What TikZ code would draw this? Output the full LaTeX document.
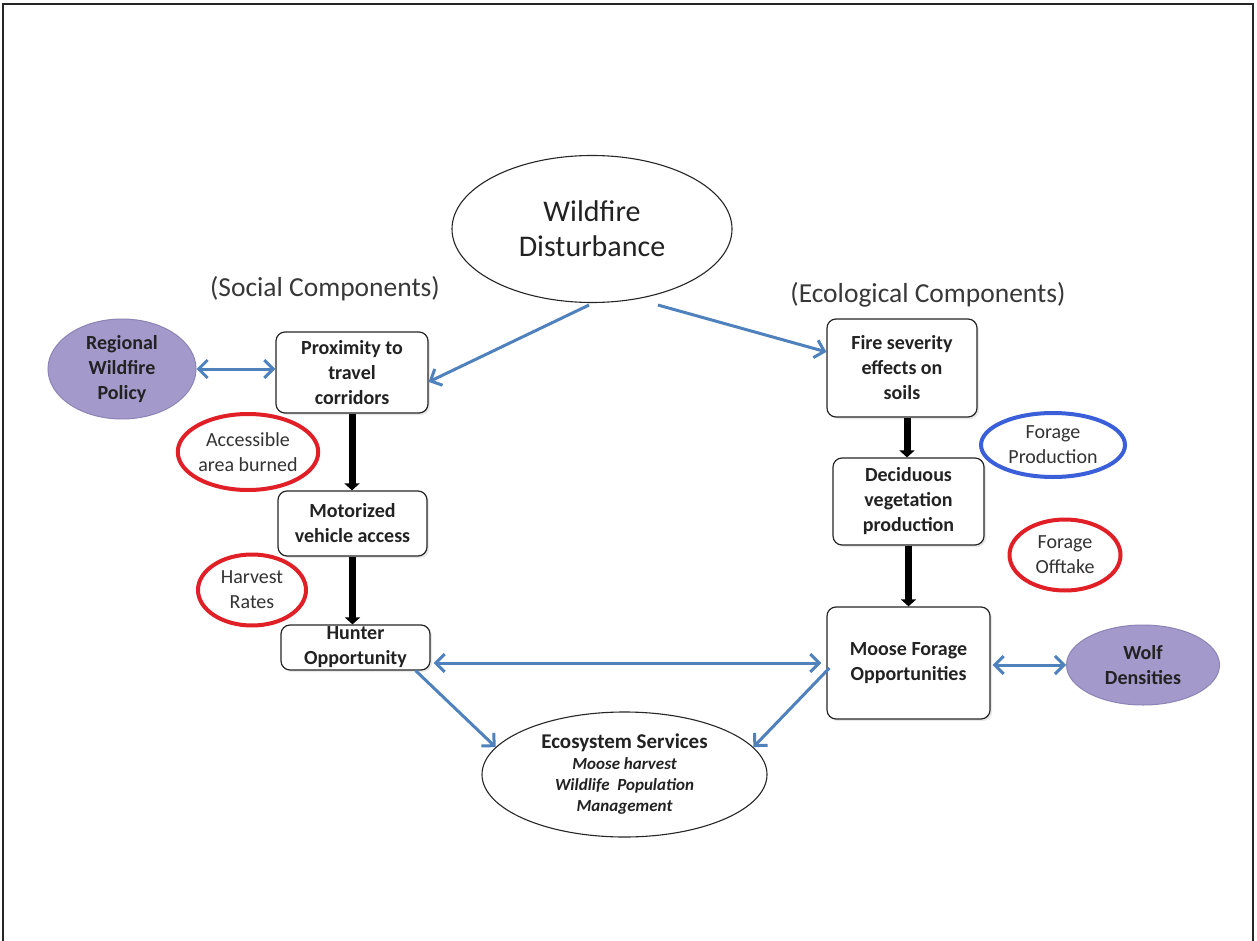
\documentclass[tikz,border=0pt]{standalone}
\usepackage{fontspec}
\setmainfont{Carlito}
\usetikzlibrary{shapes.geometric,arrows.meta,calc,shadows}
\definecolor{arrblue}{HTML}{4F81BD}
\definecolor{ellred}{HTML}{E01F26}
\definecolor{ellblue}{HTML}{3A5FD9}
\definecolor{purfill}{HTML}{A39ACB}
\definecolor{purdraw}{HTML}{8C84B4}
\definecolor{txt}{HTML}{222222}
\tikzset{
  box/.style={draw=black!85, line width=1.2pt, rounded corners=9pt, fill=white,
    align=center, text=txt, inner sep=0pt,
    font=\bfseries\fontsize{20}{25}\selectfont,
    drop shadow={opacity=0.18, shadow xshift=2pt, shadow yshift=-2pt}},
  plainell/.style={ellipse, draw=black!85, line width=1.1pt, fill=white, align=center,
    text=txt, inner sep=0pt},
  redell/.style={ellipse, draw=ellred, line width=4pt, align=center, inner sep=0pt,
    text=black!80, font=\fontsize{20}{25}\selectfont},
  blueell/.style={ellipse, draw=ellblue, line width=4pt, align=center, inner sep=0pt,
    text=black!80, font=\fontsize{20}{25}\selectfont},
  purell/.style={ellipse, draw=purdraw, line width=1pt, fill=purfill, align=center,
    inner sep=0pt, text=txt, font=\bfseries\fontsize{20}{25}\selectfont},
  heading/.style={text=black!78, font=\fontsize{27.5}{33}\selectfont},
  bluearrow/.style={draw=arrblue, line width=3pt,
    -{Straight Barb[length=9pt,width=18pt,line width=3pt]}},
  bluedouble/.style={draw=arrblue, line width=3pt,
    {Straight Barb[length=9pt,width=18pt,line width=3pt]}-{Straight Barb[length=9pt,width=18pt,line width=3pt]}},
  blackarrow/.style={draw=black, line width=7pt, -{Triangle[length=7pt,width=15pt]}},
}
\begin{document}
\begin{tikzpicture}[x=1pt,y=-1pt]
\useasboundingbox (0,0) rectangle (1257,941);
\fill[white] (0,0) rectangle (1257,941);
\draw[line width=1.6pt, black!85] (3,941) -- (3,4) -- (1253,4) -- (1253,941);

% main ellipses
\node[plainell, minimum width=280, minimum height=147,
  font=\fontsize{30}{35}\selectfont] (wd) at (592,229) {Wildfire\\Disturbance};
\node[plainell, minimum width=285, minimum height=125,
  font=\bfseries\itshape\fontsize{17}{21}\selectfont] (eco) at (624.5,774.5)
  {{\upshape\fontsize{21}{25}\selectfont Ecosystem Services}\\
   Moose harvest\\Wildlife\ \ Population\\Management};

% headings
\node[heading] (soc) at (325,289) {(Social Components)};
\node[heading] (ecol) at (928,295) {(Ecological Components)};

% social column
\node[box, minimum width=152, minimum height=81] (prox) at (352,372.5) {Proximity to\\travel\\corridors};
\node[box, minimum width=149, minimum height=65] (motor) at (352.5,523.5) {Motorized\\vehicle access};
\node[box, minimum width=149, minimum height=45] (hunt) at (355.5,647.5) {Hunter\\Opportunity};

% ecological column
\node[box, minimum width=150, minimum height=98] (fire) at (902,368) {Fire severity\\effects on\\soils};
\node[box, minimum width=151, minimum height=87] (decid) at (908.5,501.5) {Deciduous\\vegetation\\production};
\node[box, minimum width=163, minimum height=112] (moose) at (908.5,663) {Moose Forage\\Opportunities};

% side ellipses
\node[purell, minimum width=148, minimum height=100] (reg) at (122,369) {Regional\\Wildfire\\Policy};
\node[purell, minimum width=153, minimum height=80] (wolf) at (1143,665) {Wolf\\Densities};
\node[redell, minimum width=140, minimum height=76] (acc) at (248,452) {Accessible\\area burned};
\node[redell, minimum width=108, minimum height=71] (harv) at (252,590) {Harvest\\Rates};
\node[blueell, minimum width=144, minimum height=64] (forp) at (1053,445) {Forage\\Production};
\node[redell, minimum width=111, minimum height=71] (foro) at (1065,555) {Forage\\Offtake};

% blue connectors
\draw[bluearrow] ($(wd.south)+(-3,2)$) -- (prox.-7);
\draw[bluearrow] ($(wd.south)+(66,2)$) -- (fire.168);
\draw[bluedouble] (reg.east) -- (reg.east -| prox.west);
\draw[bluedouble, shorten <=3pt, shorten >=5pt] (hunt.east |- moose.west) -- (moose.west);
\draw[bluedouble, shorten <=2pt] (moose.east |- wolf.west) -- (wolf.west);
\draw[bluearrow] ($(hunt.south east)+(-15,0)$) -- (eco.168);
\draw[bluearrow] ($(moose.west)+(3,5)$) -- (eco.12);

% black connectors
\coordinate (fs) at ($(fire.south)+(5,0)$);
\draw[blackarrow] (prox.south) -- (prox.south |- motor.north);
\draw[blackarrow] (motor.south) -- (motor.south |- hunt.north);
\draw[blackarrow] (fs) -- (fs |- decid.north);
\draw[blackarrow] (decid.south) -- (decid.south |- moose.north);
\end{tikzpicture}
\end{document}
